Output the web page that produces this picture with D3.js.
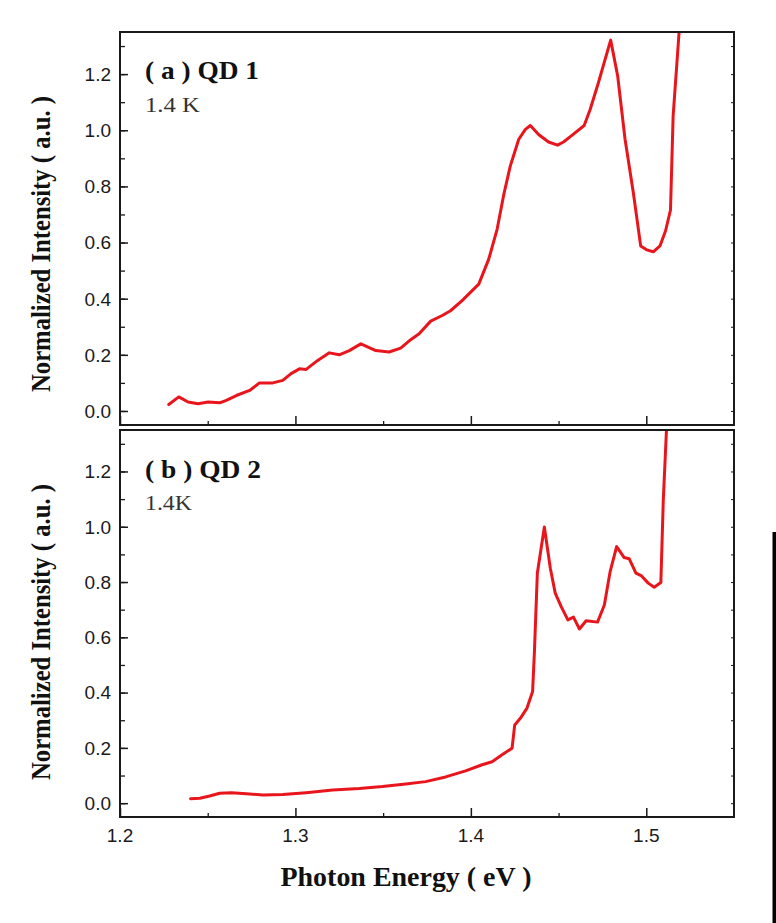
<!DOCTYPE html>
<html>
<head>
<meta charset="utf-8">
<script src="https://cdn.jsdelivr.net/npm/d3@7/dist/d3.min.js"></script>
<style>
  html, body { margin: 0; padding: 0; background: #fff; }
  svg { display: block; }
</style>
</head>
<body>
<svg id="chart" width="776" height="923"></svg>
<script>
// ---------------- DATA ----------------
const energyA = [1.2278,1.2335,1.2388,1.2445,1.2502,1.2568,1.2606,1.2663,1.2739,1.2795,1.2871,1.2928,1.2975,1.3023,1.3061,1.3127,1.3193,1.3250,1.3307,1.3373,1.3458,1.3534,1.3600,1.3657,1.3705,1.3771,1.3837,1.3884,1.3950,1.4045,1.4102,1.4150,1.4188,1.4225,1.4273,1.4311,1.4339,1.4386,1.4443,1.4494,1.4528,1.4576,1.4646,1.4680,1.4727,1.4797,1.4837,1.4879,1.4926,1.4968,1.5002,1.5040,1.5078,1.5110,1.5138,1.5153,1.5195];
const intensityA = [0.023,0.050,0.032,0.026,0.032,0.029,0.038,0.055,0.073,0.100,0.100,0.109,0.133,0.150,0.148,0.180,0.207,0.200,0.215,0.239,0.215,0.210,0.224,0.254,0.275,0.320,0.340,0.357,0.393,0.452,0.541,0.648,0.772,0.873,0.968,1.003,1.017,0.985,0.958,0.947,0.958,0.982,1.017,1.074,1.169,1.321,1.193,0.968,0.778,0.588,0.574,0.567,0.588,0.642,0.716,1.050,1.420];

const energyB = [1.2402,1.2455,1.2511,1.2568,1.2635,1.2720,1.2814,1.2928,1.3061,1.3212,1.3364,1.3496,1.3629,1.3742,1.3856,1.3970,1.4064,1.4121,1.4178,1.4235,1.4250,1.4282,1.4320,1.4352,1.4362,1.4379,1.4419,1.4453,1.4481,1.4515,1.4553,1.4585,1.4619,1.4657,1.4722,1.4761,1.4794,1.4831,1.4873,1.4903,1.4941,1.4973,1.5011,1.5045,1.5083,1.5097,1.5120];
const intensityB = [0.016,0.018,0.026,0.036,0.038,0.034,0.030,0.031,0.038,0.048,0.053,0.060,0.069,0.078,0.095,0.117,0.139,0.150,0.175,0.199,0.283,0.307,0.344,0.404,0.543,0.832,0.999,0.850,0.760,0.711,0.663,0.673,0.630,0.660,0.655,0.717,0.838,0.928,0.889,0.884,0.832,0.822,0.796,0.781,0.798,1.097,1.420];

const xTickValues = [1.2, 1.3, 1.4, 1.5];
const xTickLabels = ["1.2", "1.3", "1.4", "1.5"];
const yTickValues = [0.0, 0.2, 0.4, 0.6, 0.8, 1.0, 1.2];
const yTickLabels = ["0.0", "0.2", "0.4", "0.6", "0.8", "1.0", "1.2"];
const panelTitles = ["( a ) QD 1", "( b ) QD 2"];
const panelTemps = ["1.4 K", "1.4K"];
const yAxisTitle = "Normalized Intensity ( a.u. )";
const xAxisTitle = "Photon Energy ( eV )";

// ---------------- LAYOUT ----------------
const svg = d3.select("#chart");
const left = 120, right = 734;
const xDomain = [1.2, 1.55];
const yDomain = [-0.05, 1.35];
const lineColor = "#e8161c";
const axisColor = "#1a1a1a";
const serif = "'Times New Roman', 'Liberation Serif', serif";
const sans = "Arial, 'Liberation Sans', sans-serif";

const x = d3.scaleLinear().domain(xDomain).range([left, right]);

const panels = [
  { top: 32, bottom: 425, e: energyA, v: intensityA, title: panelTitles[0], temp: panelTemps[0], titleY: 79, tempY: 112, titleLen: 114, tempLen: 55, yTitleCenter: 244, showXLabels: false },
  { top: 430, bottom: 817, e: energyB, v: intensityB, title: panelTitles[1], temp: panelTemps[1], titleY: 478, tempY: 510, titleLen: 116, tempLen: 47, yTitleCenter: 632, showXLabels: true }
];

panels.forEach((p, i) => {
  const y = d3.scaleLinear().domain(yDomain).range([p.bottom, p.top]);
  const g = svg.append("g");

  const clipId = "clip" + i;
  svg.append("clipPath").attr("id", clipId)
    .append("rect").attr("x", left).attr("y", p.top).attr("width", right - left).attr("height", p.bottom - p.top);

  const data = p.e.map((e, k) => ({ e, v: p.v[k] }));
  g.append("path")
    .datum(data)
    .attr("clip-path", `url(#${clipId})`)
    .attr("fill", "none")
    .attr("stroke", lineColor)
    .attr("stroke-width", 3)
    .attr("stroke-linejoin", "round")
    .attr("stroke-linecap", "round")
    .attr("d", d3.line().x(d => x(d.e)).y(d => y(d.v)));

  const yMinor = d3.range(0, 1.31, 0.1).map(d => +d.toFixed(2));
  g.append("g").attr("transform", `translate(${left},0)`)
    .call(d3.axisRight(y).tickValues(yMinor).tickSize(5).tickFormat(""))
    .call(s => s.select(".domain").remove())
    .selectAll("line").attr("stroke", axisColor).attr("stroke-width", 1.3);
  g.append("g").attr("transform", `translate(${left},0)`)
    .call(d3.axisRight(y).tickValues(yTickValues).tickSize(8).tickFormat(""))
    .call(s => s.select(".domain").remove())
    .selectAll("line").attr("stroke", axisColor).attr("stroke-width", 1.5);
  g.selectAll(".ylab").data(yTickValues).enter().append("text")
    .attr("x", 111).attr("y", d => y(d)).attr("dy", "0.36em")
    .attr("text-anchor", "end")
    .attr("font-family", sans)
    .attr("font-size", 19).attr("fill", "#1a1a1a")
    .text((d, k) => yTickLabels[k]);

  g.append("g").attr("transform", `translate(${right},0)`)
    .call(d3.axisLeft(y).tickValues(yMinor).tickSize(3).tickFormat(""))
    .call(s => s.select(".domain").remove())
    .selectAll("line").attr("stroke", axisColor).attr("stroke-width", 1);

  const xMinor = [1.25, 1.35, 1.45];
  g.append("g").attr("transform", `translate(0,${p.bottom})`)
    .call(d3.axisTop(x).tickValues(xMinor).tickSize(4).tickFormat(""))
    .call(s => s.select(".domain").remove())
    .selectAll("line").attr("stroke", axisColor).attr("stroke-width", 1.3);
  g.append("g").attr("transform", `translate(0,${p.bottom})`)
    .call(d3.axisTop(x).tickValues(xTickValues).tickSize(9).tickFormat(""))
    .call(s => s.select(".domain").remove())
    .selectAll("line").attr("stroke", axisColor).attr("stroke-width", 1.5);

  if (p.showXLabels) {
    g.selectAll(".xlab").data(xTickValues).enter().append("text")
      .attr("x", d => x(d)).attr("y", 842)
      .attr("text-anchor", "middle")
      .attr("font-family", sans)
      .attr("font-size", 19).attr("fill", "#1a1a1a")
      .text((d, k) => xTickLabels[k]);
  }

  g.append("rect")
    .attr("x", left).attr("y", p.top)
    .attr("width", right - left).attr("height", p.bottom - p.top)
    .attr("fill", "none").attr("stroke", axisColor).attr("stroke-width", 2);

  g.append("text")
    .attr("x", 145).attr("y", p.titleY)
    .attr("font-family", serif)
    .attr("font-weight", "bold").attr("font-size", 26).attr("fill", "#111")
    .attr("textLength", p.titleLen).attr("lengthAdjust", "spacingAndGlyphs")
    .text(p.title);
  g.append("text")
    .attr("x", 145).attr("y", p.tempY)
    .attr("font-family", serif)
    .attr("font-size", 22).attr("fill", "#333")
    .attr("textLength", p.tempLen).attr("lengthAdjust", "spacingAndGlyphs")
    .text(p.temp);

  g.append("text")
    .attr("transform", `translate(50,${p.yTitleCenter}) rotate(-90)`)
    .attr("text-anchor", "middle")
    .attr("font-family", serif)
    .attr("font-weight", "bold").attr("font-size", 28).attr("fill", "#111")
    .attr("textLength", 296).attr("lengthAdjust", "spacingAndGlyphs")
    .text(yAxisTitle);
});

svg.append("text")
  .attr("x", 406).attr("y", 886)
  .attr("text-anchor", "middle")
  .attr("font-family", serif)
  .attr("font-weight", "bold").attr("font-size", 28).attr("fill", "#111")
  .attr("textLength", 251).attr("lengthAdjust", "spacingAndGlyphs")
  .text(xAxisTitle);

svg.append("rect")
  .attr("x", 772.5).attr("y", 532).attr("width", 3.5).attr("height", 391)
  .attr("fill", "#000");
</script>
</body>
</html>
